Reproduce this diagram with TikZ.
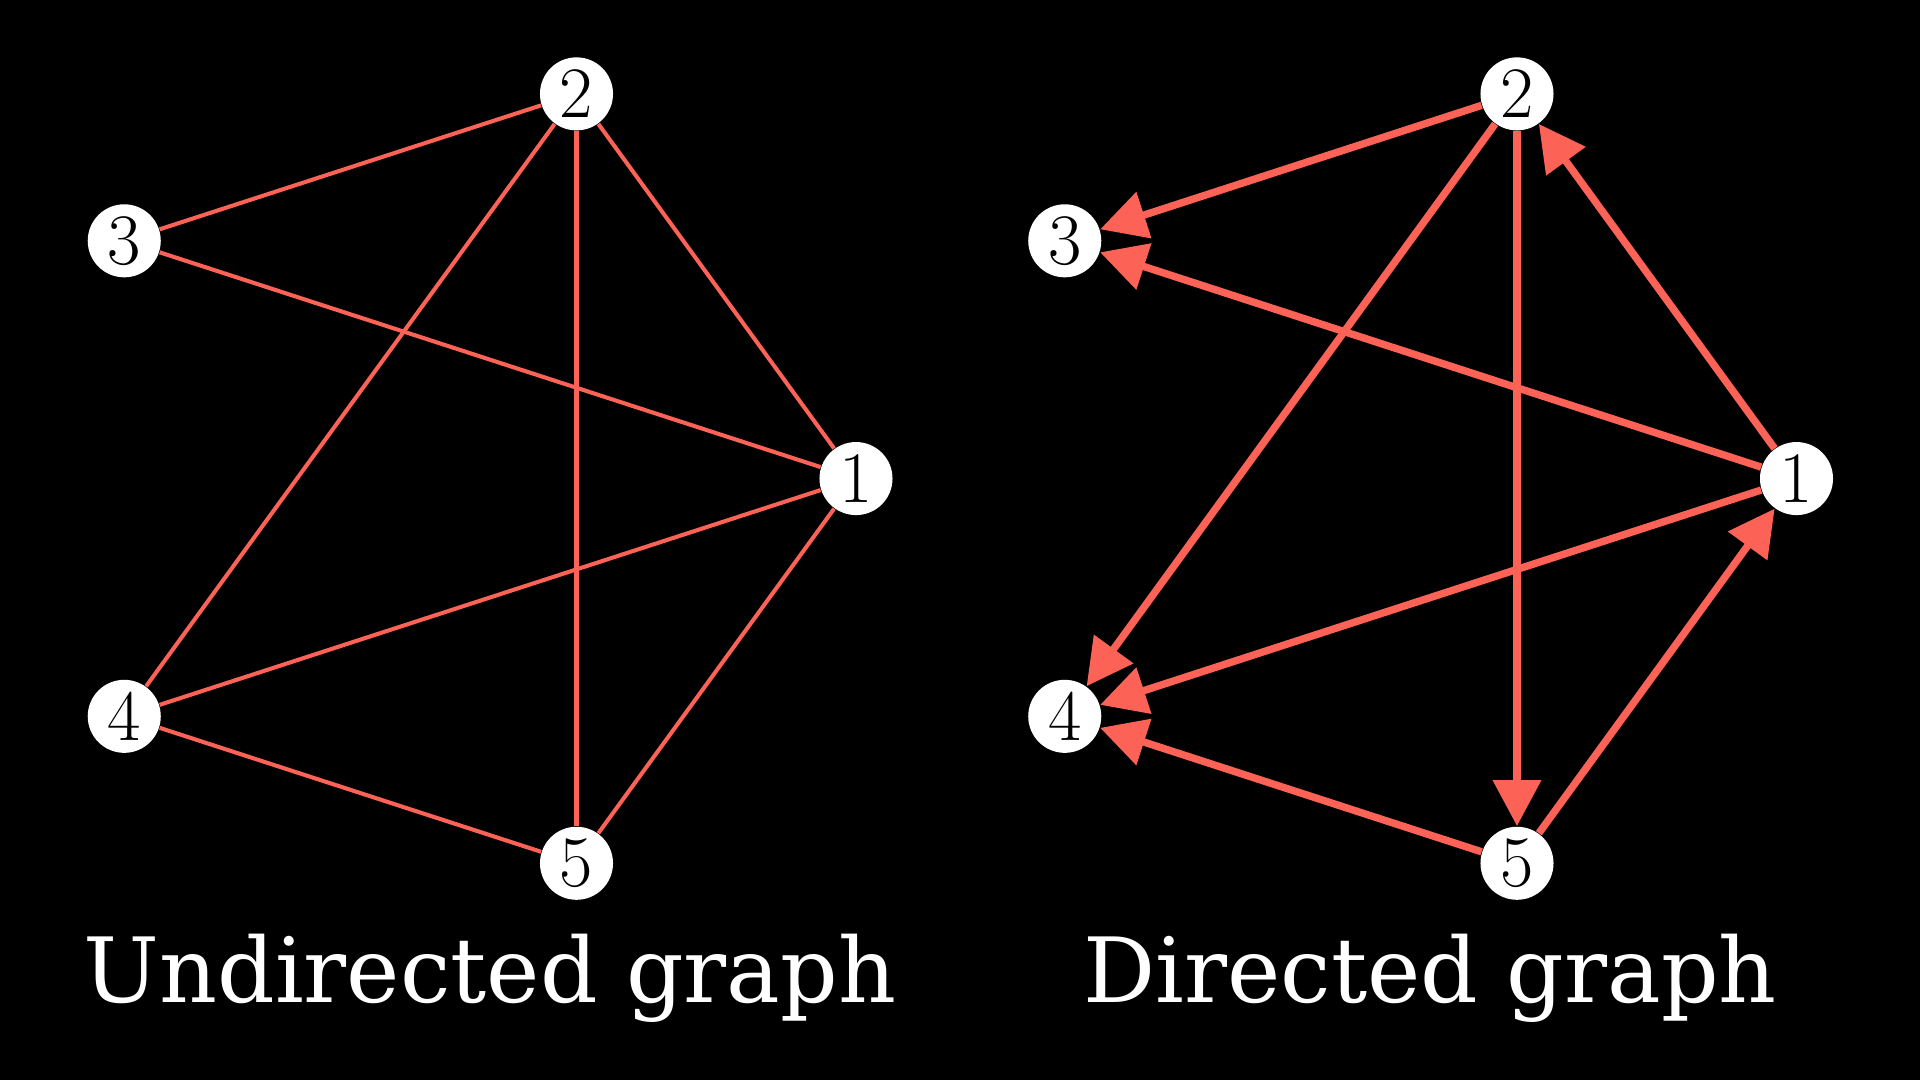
\documentclass[tikz,border=0pt]{standalone}
\usepackage{fontspec}
\newfontfamily\labelfont{DejaVu Serif}
\usetikzlibrary{arrows.meta}
\definecolor{edgered}{HTML}{FC6255}
\begin{document}
\begin{tikzpicture}[x=0.01cm,y=0.01cm,
  vert/.style={circle, fill=white, minimum size=0.73cm, inner sep=0pt,
    font=\fontsize{20.6}{24}\selectfont, text=black},
  uedge/.style={draw=edgered, line width=1.15pt},
  dedge/.style={draw=edgered, line width=2.1pt,
    -{Triangle[length=0.46cm,width=0.47cm]}},
  caption/.style={text=white, font=\labelfont\fontsize{25.6}{30}\selectfont,
    anchor=base, inner sep=0pt}]
\fill[black] (0,0) rectangle (1920,1080);
\useasboundingbox (0,0) rectangle (1920,1080);
\coordinate (L) at (451.5,601.4);
\coordinate (R) at (1392,601.4);
\foreach \i in {1,...,5} {
  \path (L) ++({(\i-1)*72}:404.5) node[vert] (u\i) {\i};
  \path (R) ++({(\i-1)*72}:404.5) node[vert] (d\i) {\i};
}
% undirected
\draw[uedge] (u2) -- (u3);
\draw[uedge] (u3) -- (u1);
\draw[uedge] (u2) -- (u4);
\draw[uedge] (u2) -- (u5);
\draw[uedge] (u2) -- (u1);
\draw[uedge] (u1) -- (u4);
\draw[uedge] (u1) -- (u5);
\draw[uedge] (u4) -- (u5);
% directed
\draw[dedge] (d2) -- (d3);
\draw[dedge] (d1) -- (d3);
\draw[dedge] (d1) -- (d2);
\draw[dedge] (d2) -- (d4);
\draw[dedge] (d1) -- (d4);
\draw[dedge] (d5) -- (d4);
\draw[dedge] (d2) -- (d5);
\draw[dedge] (d5) -- (d1);
% captions
\node[caption] (cu) at (490,77) {Undirected graph};
\node[caption] (cd) at (1430,77) {Directed graph};
\end{tikzpicture}
\end{document}
